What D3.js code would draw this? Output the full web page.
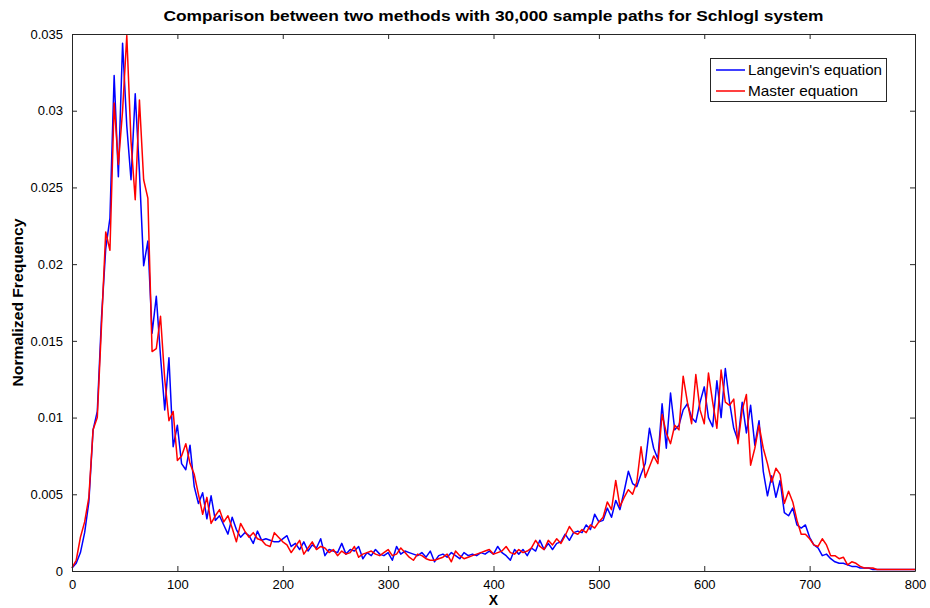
<!DOCTYPE html>
<html><head><meta charset="utf-8">
<script src="https://cdn.jsdelivr.net/npm/d3@7"></script>
<style>body{margin:0;background:#fff}svg{display:block}</style>
</head><body>
<script>
const xStart = 0, xStep = 4;
const langevin = [
0.0002,0.0005,0.0012,0.0025,0.0045,0.0092,0.0104,0.0165,0.0210,0.0230,
0.0323,0.0257,0.0344,0.0290,0.0255,0.0311,0.0260,0.0199,0.0215,0.0155,
0.0179,0.0140,0.0105,0.0139,0.0081,0.0095,0.0070,0.0066,0.0082,0.0055,
0.0044,0.0051,0.0034,0.0049,0.0033,0.0036,0.0030,0.0024,0.0035,0.0027,
0.0022,0.0025,0.0023,0.0018,0.0026,0.0020,0.0021,0.0020,0.0019,0.0019,
0.0021,0.0023,0.0016,0.0018,0.0014,0.0019,0.0013,0.0017,0.0015,0.0021,
0.0010,0.0014,0.0013,0.0012,0.0018,0.0011,0.0014,0.0013,0.0016,0.0008,
0.0012,0.0010,0.0014,0.0011,0.0010,0.0012,0.0007,0.0016,0.0011,0.0013,
0.0012,0.0011,0.0010,0.0012,0.0009,0.0013,0.0006,0.0010,0.0011,0.0009,
0.0012,0.0010,0.0008,0.0012,0.0010,0.0011,0.0010,0.0012,0.0011,0.0013,
0.0011,0.0016,0.0012,0.0010,0.0007,0.0014,0.0011,0.0014,0.0010,0.0015,
0.0013,0.0020,0.0014,0.0018,0.0014,0.0018,0.0019,0.0024,0.0020,0.0025,
0.0026,0.0025,0.0030,0.0027,0.0037,0.0032,0.0033,0.0041,0.0035,0.0046,
0.0040,0.0052,0.0065,0.0057,0.0055,0.0063,0.0070,0.0093,0.0080,0.0073,
0.0109,0.0080,0.0116,0.0092,0.0095,0.0105,0.0109,0.0100,0.0097,0.0110,
0.0120,0.0100,0.0094,0.0124,0.0100,0.0132,0.0110,0.0093,0.0085,0.0110,
0.0090,0.0108,0.0082,0.0098,0.0065,0.0049,0.0062,0.0048,0.0059,0.0038,
0.0036,0.0041,0.0030,0.0028,0.0030,0.0022,0.0017,0.0015,0.0010,0.0011,
0.0008,0.0006,0.0005,0.0005,0.0004,0.0003,0.0003,0.0002,0.0002,0.0002,
0.0001,0.0001,0.0001,0.0001,0.0001,0.0001,0.0001,0.0001,0.0001,0.0001,
0.0001];
const master = [
0.0002,0.0007,0.0022,0.0032,0.0048,0.0092,0.0100,0.0160,0.0221,0.0209,
0.0305,0.0265,0.0300,0.0349,0.0280,0.0242,0.0307,0.0255,0.0243,0.0143,
0.0145,0.0166,0.0125,0.0098,0.0104,0.0072,0.0075,0.0083,0.0070,0.0063,
0.0050,0.0037,0.0048,0.0031,0.0036,0.0040,0.0032,0.0036,0.0028,0.0019,
0.0031,0.0026,0.0022,0.0025,0.0021,0.0020,0.0017,0.0016,0.0025,0.0022,
0.0019,0.0017,0.0012,0.0016,0.0020,0.0011,0.0015,0.0019,0.0014,0.0016,
0.0015,0.0012,0.0014,0.0010,0.0013,0.0011,0.0012,0.0016,0.0009,0.0011,
0.0012,0.0013,0.0011,0.0010,0.0012,0.0014,0.0010,0.0011,0.0015,0.0012,
0.0009,0.0007,0.0011,0.0010,0.0008,0.0007,0.0007,0.0008,0.0009,0.0011,
0.0006,0.0013,0.0010,0.0008,0.0009,0.0010,0.0011,0.0012,0.0013,0.0014,
0.0011,0.0012,0.0013,0.0016,0.0012,0.0011,0.0014,0.0012,0.0013,0.0015,
0.0020,0.0016,0.0014,0.0020,0.0017,0.0021,0.0018,0.0023,0.0029,0.0025,
0.0024,0.0027,0.0025,0.0030,0.0028,0.0032,0.0035,0.0045,0.0040,0.0059,
0.0042,0.0048,0.0053,0.0050,0.0058,0.0081,0.0061,0.0068,0.0075,0.0070,
0.0102,0.0090,0.0083,0.0095,0.0092,0.0127,0.0110,0.0096,0.0128,0.0105,
0.0096,0.0129,0.0110,0.0093,0.0131,0.0110,0.0108,0.0112,0.0083,0.0105,
0.0115,0.0069,0.0080,0.0095,0.0080,0.0070,0.0058,0.0067,0.0063,0.0044,
0.0052,0.0045,0.0033,0.0024,0.0024,0.0021,0.0017,0.0016,0.0021,0.0017,
0.0010,0.0010,0.0008,0.0009,0.0004,0.0006,0.0005,0.0003,0.0002,0.0002,
0.0002,0.0001,0.0001,0.0001,0.0001,0.0001,0.0001,0.0001,0.0001,0.0001,
0.0001];
const seriesNames = ["Langevin's equation", "Master equation"];
const seriesColors = ["#0000ff", "#ff0000"];
const xTicks = [0,100,200,300,400,500,600,700,800];
const yTicks = [0,0.005,0.01,0.015,0.02,0.025,0.03,0.035];
const yTickLabels = ["0","0.005","0.01","0.015","0.02","0.025","0.03","0.035"];
const titleText = "Comparison between two methods with 30,000 sample paths for Schlogl system";
const xLabel = "X", yLabel = "Normalized Frequency";

const W = 930, H = 608;
const m = {left: 72, right: 15, top: 34, bottom: 37};
const svg = d3.select("body").append("svg").attr("width", W).attr("height", H);
const x = d3.scaleLinear().domain([0, 800]).range([m.left, W - m.right]);
const y = d3.scaleLinear().domain([0, 0.035]).range([H - m.bottom, m.top]);
const font = "'Liberation Sans', Arial, sans-serif";

const line = d3.line().x((d, i) => x(xStart + i * xStep)).y(d => y(d));
[langevin, master].forEach((s, k) => {
  svg.append("path").datum(s).attr("d", line).attr("fill", "none")
    .attr("stroke", seriesColors[k]).attr("stroke-width", 1.5).attr("stroke-linejoin", "round");
});

const tl = 5;
const gB = svg.append("g").attr("transform", `translate(0,${y(0)})`)
  .call(d3.axisBottom(x).tickValues(xTicks).tickSizeInner(-tl).tickSizeOuter(0).tickPadding(9));
const gT = svg.append("g").attr("transform", `translate(0,${y(0.035)})`)
  .call(d3.axisTop(x).tickValues(xTicks).tickSizeInner(-tl).tickSizeOuter(0).tickFormat(""));
const gL = svg.append("g").attr("transform", `translate(${x(0)},0)`)
  .call(d3.axisLeft(y).tickValues(yTicks).tickSizeInner(-tl).tickSizeOuter(0).tickPadding(9)
    .tickFormat((d, i) => yTickLabels[i]));
const gR = svg.append("g").attr("transform", `translate(${x(800)},0)`)
  .call(d3.axisRight(y).tickValues(yTicks).tickSizeInner(-tl).tickSizeOuter(0).tickFormat(""));
[gB, gT, gL, gR].forEach(g => {
  g.selectAll("path").attr("stroke", "#262626").attr("stroke-width", 1);
  g.selectAll("line").attr("stroke", "#262626");
  g.selectAll("text").attr("font-family", font).attr("font-size", 13).attr("fill", "#000");
});

svg.append("text").attr("x", (x(0) + x(800)) / 2).attr("y", 21).attr("text-anchor", "middle")
  .attr("font-family", font).attr("font-weight", "bold").attr("font-size", 15)
  .attr("textLength", 660).attr("lengthAdjust", "spacingAndGlyphs").text(titleText);
svg.append("text").attr("x", (x(0) + x(800)) / 2).attr("y", 605).attr("text-anchor", "middle")
  .attr("font-family", font).attr("font-weight", "bold").attr("font-size", 14).text(xLabel);
svg.append("text").attr("transform", `translate(23,${(y(0) + y(0.035)) / 2}) rotate(-90)`)
  .attr("text-anchor", "middle").attr("font-family", font).attr("font-weight", "bold")
  .attr("font-size", 14).attr("textLength", 168).attr("lengthAdjust", "spacingAndGlyphs").text(yLabel);

const lg = svg.append("g");
lg.append("rect").attr("x", 710.5).attr("y", 58.5).attr("width", 176).attr("height", 43)
  .attr("fill", "#fff").attr("stroke", "#262626");
seriesNames.forEach((n, k) => {
  const yy = 70 + k * 21;
  lg.append("line").attr("x1", 716).attr("x2", 745).attr("y1", yy).attr("y2", yy)
    .attr("stroke", seriesColors[k]).attr("stroke-width", 1.5);
  lg.append("text").attr("x", 748).attr("y", yy + 5).attr("font-family", font)
    .attr("font-size", 15).attr("textLength", k === 0 ? 134 : 110)
    .attr("lengthAdjust", "spacingAndGlyphs").text(n);
});
</script>
</body></html>
